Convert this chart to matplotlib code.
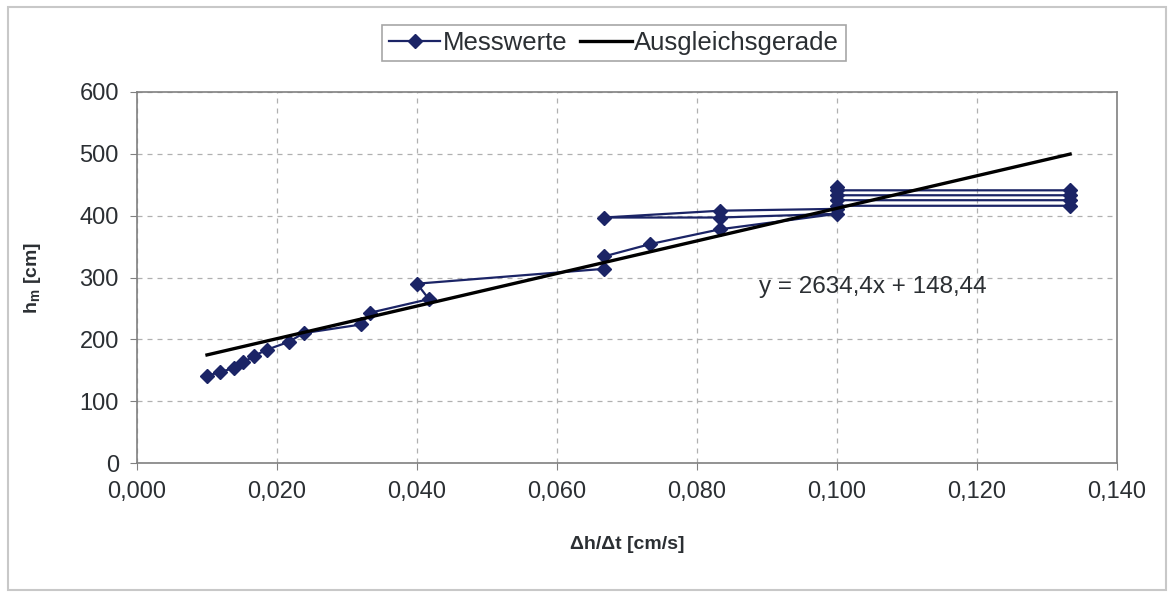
import numpy as np
import matplotlib
matplotlib.use("Agg")
import matplotlib.pyplot as plt
from matplotlib.patches import Rectangle
from matplotlib.ticker import FuncFormatter, MultipleLocator

plt.rcParams["font.family"] = ["Liberation Sans", "DejaVu Sans"]

# Messwerte in time order (dh/dt in cm/s, h_m in cm)
dhdt = [0.1000, 0.1000, 0.1333, 0.1333, 0.1000, 0.1000, 0.1333, 0.1333,
        0.1000, 0.1000, 0.0833, 0.0667, 0.0833, 0.1000, 0.0833, 0.0733,
        0.0667, 0.0667, 0.0400, 0.0417, 0.0333, 0.0320, 0.0238, 0.0217,
        0.0185, 0.0167, 0.0152, 0.0139, 0.0119, 0.0100]
h_m = [446, 441, 441, 433, 433, 425, 425, 416,
       416, 411, 408, 397, 397, 403, 378, 354,
       334, 314, 290, 265, 243, 224, 210, 196,
       183, 173, 163, 154, 147, 141]

# Ausgleichsgerade y = 2634,4x + 148,44
slope, intercept = 2634.4, 148.44
fit_x = np.array([0.0100, 0.1333])

text_col = "#2b2f33"
navy = "#1b2466"

fig = plt.figure(figsize=(11.72, 5.92), dpi=100)
ax = fig.add_axes([137 / 1172, 1 - 463 / 592, 980 / 1172, 371 / 592])

ax.plot(dhdt, h_m, color=navy, lw=1.6, marker="D", ms=7.5, mfc=navy, mec=navy,
        label="Messwerte", zorder=3)
ax.plot(fit_x, slope * fit_x + intercept, color="black", lw=2.4,
        label="Ausgleichsgerade", zorder=4)

ax.text(0.1051, 285, "y = 2634,4x + 148,44", fontsize=17.5, color=text_col,
        ha="center", va="center", zorder=5)

ax.set_xlim(0, 0.14)
ax.set_ylim(0, 600)
ax.xaxis.set_major_locator(MultipleLocator(0.02))
ax.yaxis.set_major_locator(MultipleLocator(100))
ax.xaxis.set_major_formatter(FuncFormatter(lambda v, p: f"{v:.3f}".replace(".", ",")))
ax.grid(True, color="#b0b0b0", ls=(0, (4, 4)), lw=0.9)
ax.set_axisbelow(True)
for s in ax.spines.values():
    s.set_color("#808080")
    s.set_linewidth(1.2)
ax.tick_params(direction="out", length=5, color="#808080", labelsize=17,
               labelcolor=text_col, pad=8)

ax.set_xlabel("Δh/Δt [cm/s]", fontsize=14, fontweight="bold", color=text_col, labelpad=24)
ax.set_ylabel("h$_\\mathregular{m}$ [cm]", fontsize=14, fontweight="bold", color=text_col, labelpad=26)

leg = fig.legend(loc="center", bbox_to_anchor=(614 / 1172, 1 - 43 / 592), ncol=2,
                 fontsize=18.5, frameon=True, fancybox=False, edgecolor="#909090",
                 handlelength=2.0, handletextpad=0.1, columnspacing=0.5,
                 borderpad=0.25, borderaxespad=0)
for t in leg.get_texts():
    t.set_color(text_col)
leg.get_frame().set_linewidth(1.2)

fig.patches.append(Rectangle((8 / 1172, 2 / 592), 1158 / 1172, 583 / 592,
                             transform=fig.transFigure, fill=False,
                             edgecolor="#c8c8c8", lw=1.5))

fig.savefig("out.png", dpi=100)
